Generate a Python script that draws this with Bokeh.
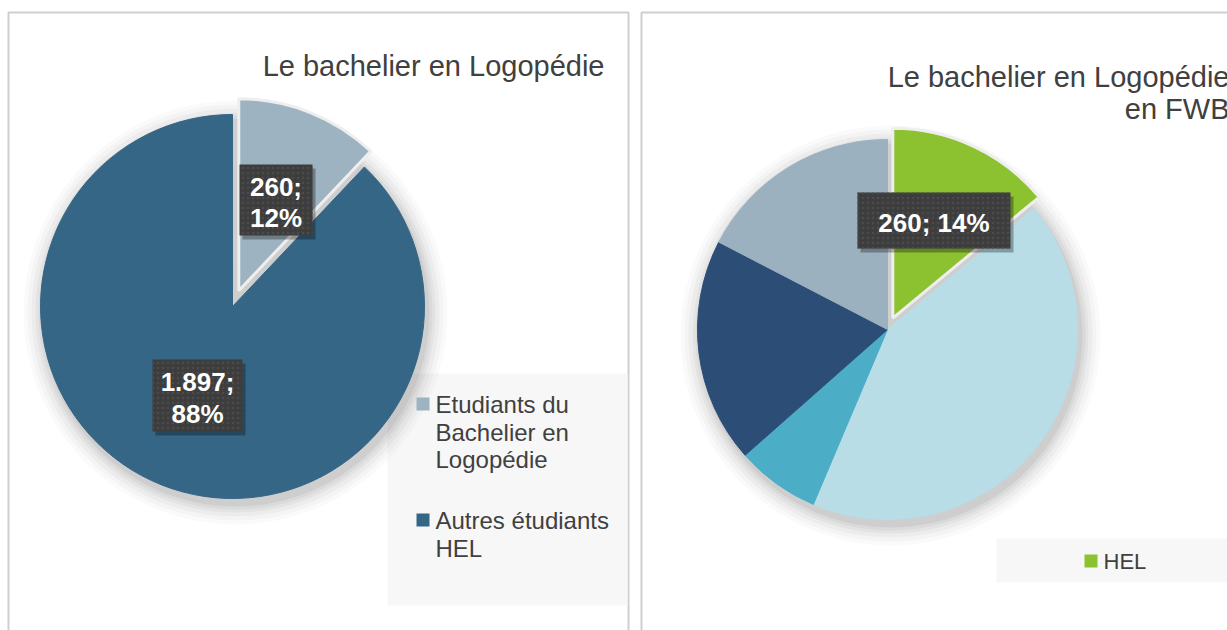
import numpy as np
from bokeh.plotting import figure
from bokeh.models import Range1d, ColumnDataSource
from bokeh.core.properties import value
from bokeh.embed import file_html
from bokeh.resources import INLINE

# ---------------- data ----------------
left_title = "Le bachelier en Logopédie"
left_categories = ["Etudiants du\nBachelier en\nLogopédie", "Autres étudiants\nHEL"]
left_values = [260, 1897]

right_title = "Le bachelier en Logopédie\nen FWB"
right_categories = ["HEL", "Autres 1", "Autres 2", "Autres 3", "Autres 4"]
right_values = [260, 787, 132, 355, 323]
right_legend_shown = ["HEL"]

# ---------------- styles / layout ----------------
W, H = 1227, 630
FONT = "Liberation Sans"
TXT = "#404040"
left_colors = ["#9DB3C1", "#356686"]
right_colors = ["#8CC130", "#B8DDE7", "#4BADC6", "#2C4D75", "#9BB1BF"]


def Y(y):  # screen y (top-down) -> data y
    return H - y


def YT(y, size):  # text baseline correction
    return H - y + 0.34 * size


def pie_geom(values):
    v = np.array(values, dtype=float)
    frac = v / v.sum()
    cum = np.concatenate([[0.0], np.cumsum(frac)])
    start = np.pi / 2 - 2 * np.pi * cum[:-1]
    end = np.pi / 2 - 2 * np.pi * cum[1:]
    mid = np.pi * (cum[:-1] + cum[1:])
    return frac, start, end, mid


def fmt_num(v):
    return f"{v:,}".replace(",", ".")


p = figure(width=W, height=H, x_range=Range1d(0, W), y_range=Range1d(0, H),
           output_backend="svg", toolbar_location=None,
           x_axis_type=None, y_axis_type=None, min_border=0,
           outline_line_color=None, background_fill_color="white",
           border_fill_color="white")
p.grid.visible = False

# panels
p.quad(left=[8, 641], right=[628, 1240], top=[Y(12), Y(12)], bottom=[-20, -20],
       fill_color=None, line_color="#cfcfcf", line_width=2)

# legend backgrounds
p.quad(left=[387, 996], right=[627, 1240], top=[Y(373), Y(538)], bottom=[Y(605), Y(582)],
       fill_color="#f7f7f7", line_color=None)


def draw_pie(values, colors, cx, cy, r, explode):
    frac, start, end, mid = pie_geom(values)
    d = np.array(explode, dtype=float)
    xs = cx + d * np.sin(mid)
    ys = cy + d * np.cos(mid)
    # soft shadow
    for k, a in [(20, 0.02), (16, 0.025), (12, 0.03), (8, 0.035), (5, 0.04), (2, 0.05)]:
        p.circle(x=[cx + 3], y=[cy - 6], radius=r + k, fill_color="black",
                 fill_alpha=a, line_color=None)
    src = ColumnDataSource(dict(x=xs, y=ys, s=start, e=end, c=colors))
    p.wedge(x="x", y="y", radius=r, start_angle="s", end_angle="e", direction="clock",
            fill_color="c", line_color="c", line_width=1, source=src)
    ex = [i for i in range(len(values)) if d[i] > 0]
    if ex:
        i = ex[0]
        p.wedge(x=[xs[i]], y=[ys[i]], radius=r, start_angle=[start[i]], end_angle=[end[i]],
                direction="clock", fill_color=colors[i], line_color="#eeeeee", line_width=3)
    return frac


lfrac = draw_pie(left_values, left_colors, 232, Y(306), 192, [17, 0])
rfrac = draw_pie(right_values, right_colors, 887, Y(329), 190, [12.5, 0, 0, 0, 0])


def label_box(l, t, r_, b, lines, baselines, cx):
    p.quad(left=[l + 3], right=[r_ + 3], top=[Y(t + 4)], bottom=[Y(b + 4)],
           fill_color="black", fill_alpha=0.3, line_color=None)
    p.quad(left=[l], right=[r_], top=[Y(t)], bottom=[Y(b)], fill_color="#3d3d3d",
           line_color=None, hatch_pattern="dot", hatch_color="#4b4b4b",
           hatch_scale=5, hatch_weight=1)
    p.text(x=[cx] * len(lines), y=[YT(bl, 26) for bl in baselines], text=lines,
           text_color="white", text_font=value(FONT), text_font_style="bold",
           text_font_size=value("26px"), text_align="center", text_baseline="alphabetic")


pl = [f"{round(f * 100)}%" for f in lfrac]
pr = [f"{round(f * 100)}%" for f in rfrac]
label_box(239, 164, 312, 235, [fmt_num(left_values[0]) + ";", pl[0]], [195, 226], 275.5)
label_box(152, 359, 242, 431, [fmt_num(left_values[1]) + ";", pl[1]], [390, 422], 197)
label_box(857, 192, 1010, 248, [fmt_num(right_values[0]) + "; " + pr[0]], [231], 933.5)

# titles
p.text(x=[604], y=[YT(75, 29)], text=[left_title], text_color=TXT, text_font=value(FONT),
       text_font_size=value("29px"), text_align="right", text_baseline="alphabetic")
rt = right_title.split("\n")
p.text(x=[1229, 1229], y=[YT(86, 29), YT(118, 29)], text=rt, text_color=TXT,
       text_font=value(FONT), text_font_size=value("29px"), text_align="right",
       text_baseline="alphabetic")

# left legend
item_tops = [397, 513]
for i, lab in enumerate(left_categories):
    t = item_tops[i]
    p.quad(left=[416], right=[429], top=[Y(t)], bottom=[Y(t + 13)],
           fill_color=left_colors[i], line_color=None)
    lines = lab.split("\n")
    p.text(x=[435] * len(lines), y=[YT(t + 15 + 27.7 * j, 24) for j in range(len(lines))],
           text=lines, text_color=TXT, text_font=value(FONT), text_font_size=value("24px"),
           text_align="left", text_baseline="alphabetic")

# right legend
for i, lab in enumerate(right_legend_shown):
    p.quad(left=[1084], right=[1097], top=[Y(554)], bottom=[Y(567)],
           fill_color=right_colors[right_categories.index(lab)], line_color=None)
    p.text(x=[1103], y=[YT(568, 22)], text=[lab], text_color=TXT, text_font=value(FONT),
           text_font_size=value("22px"), text_align="left", text_baseline="alphabetic")

open("out.html", "w").write(file_html(p, INLINE))
